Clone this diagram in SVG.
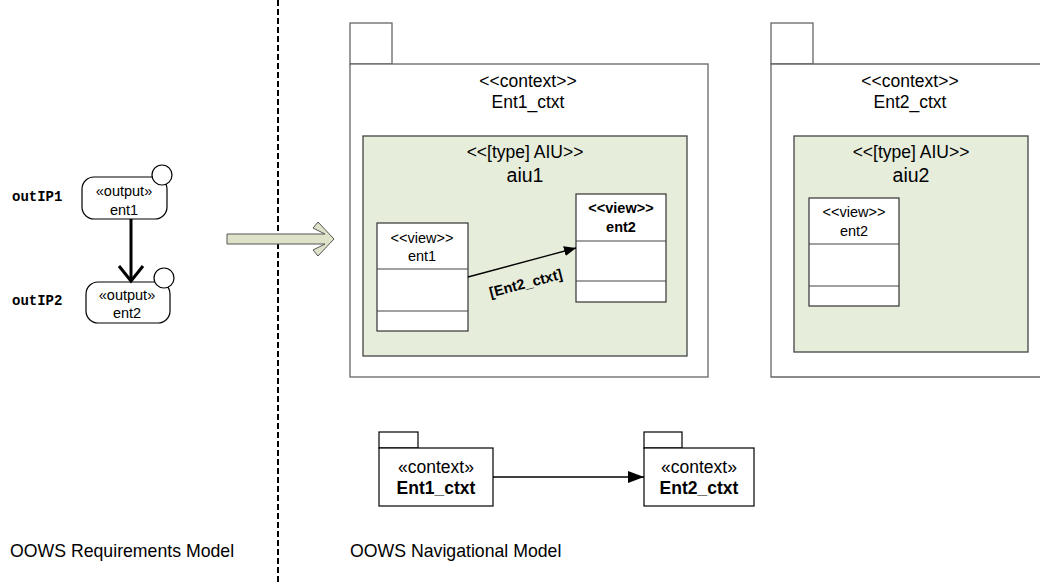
<svg xmlns="http://www.w3.org/2000/svg" width="1040" height="585" viewBox="0 0 1040 585">
<style>
text{font-family:"Liberation Sans",Arial,sans-serif;fill:#000}
.c{text-anchor:middle}
.b{font-weight:bold}
.mono{font-family:"Liberation Mono","Courier New",monospace;font-weight:bold;font-size:14px}
.pkg{fill:#fff;stroke:#666;stroke-width:1.3}
.aiu{fill:#e6eddb;stroke:#444;stroke-width:1.3}
.view{fill:#fff;stroke:#333;stroke-width:1.2}
.div{stroke:#444;stroke-width:1.2}
.node{fill:#fff;stroke:#000;stroke-width:1.2}
</style>
<defs>
<marker id="tri" viewBox="0 0 12 10" refX="12" refY="5" markerWidth="12" markerHeight="10" markerUnits="userSpaceOnUse" orient="auto">
<path d="M0,0 L12,5 L0,10 Z" fill="#000"/>
</marker>
<marker id="tri2" viewBox="0 0 16 12" refX="16" refY="6" markerWidth="16" markerHeight="12" markerUnits="userSpaceOnUse" orient="auto">
<path d="M0,0 L16,6 L0,12 Z" fill="#000"/>
</marker>
</defs>

<!-- divider -->
<line x1="278" y1="0" x2="278" y2="585" stroke="#000" stroke-width="2" stroke-dasharray="6 3"/>

<!-- left requirements model -->
<g id="outIP1">
<text class="mono" x="12" y="201">outIP1</text>
<rect class="node" x="82" y="177" width="85" height="42" rx="12"/>
<circle class="node" cx="162" cy="175" r="10"/>
<text class="c" x="124" y="196" font-size="14.5">«output»</text>
<text class="c" x="124" y="215" font-size="14.5">ent1</text>
</g>
<g id="outIP2">
<text class="mono" x="12" y="305">outIP2</text>
<rect class="node" x="86" y="282" width="84" height="41" rx="12"/>
<circle class="node" cx="164" cy="278" r="10"/>
<text class="c" x="127" y="300" font-size="14.5">«output»</text>
<text class="c" x="127" y="318" font-size="14.5">ent2</text>
</g>

<!-- transformation arrow -->
<g id="transform">
<polygon points="227,234 325,234 313,228 318,222 334,239 318,256 313,250 325,244 227,244" fill="#dde2c8" stroke="#555" stroke-width="1"/>
</g>

<!-- package 1 -->
<g id="Ent1_ctxt">
<rect class="pkg" x="350" y="23" width="42" height="41"/>
<rect class="pkg" x="350" y="64" width="358" height="313"/>
<text class="c" x="528" y="87" font-size="17.5">&lt;&lt;context&gt;&gt;</text>
<text class="c" x="528" y="108" font-size="17.5">Ent1_ctxt</text>
</g>
<g id="aiu1">
<rect class="aiu" x="363" y="136" width="324" height="220"/>
<text class="c" x="525" y="158" font-size="17.5">&lt;&lt;[type] AIU&gt;&gt;</text>
<text class="c" x="525" y="182" font-size="19.5">aiu1</text>
</g>
<g id="view_ent1">
<rect class="view" x="377" y="223" width="91" height="108"/>
<line class="div" x1="377" y1="269" x2="468" y2="269"/>
<line class="div" x1="377" y1="311" x2="468" y2="311"/>
<text class="c" x="422" y="243" font-size="14.5">&lt;&lt;view&gt;&gt;</text>
<text class="c" x="422" y="261" font-size="14.5">ent1</text>
</g>
<g id="view_ent2">
<rect class="view" x="576" y="194" width="90" height="108"/>
<line class="div" x1="576" y1="241" x2="666" y2="241"/>
<line class="div" x1="576" y1="281" x2="666" y2="281"/>
<text class="c b" x="621" y="213" font-size="14.5">&lt;&lt;view&gt;&gt;</text>
<text class="c b" x="621" y="232" font-size="14.5">ent2</text>
</g>

<!-- package 2 -->
<g id="Ent2_ctxt">
<rect class="pkg" x="771" y="23" width="42" height="41"/>
<path class="pkg" d="M1045,64 L771,64 L771,377 L1045,377"/>
<text class="c" x="910" y="87" font-size="17.5">&lt;&lt;context&gt;&gt;</text>
<text class="c" x="910" y="108" font-size="17.5">Ent2_ctxt</text>
</g>
<g id="aiu2">
<rect class="aiu" x="794" y="136" width="234" height="216"/>
<text class="c" x="911" y="158" font-size="17.5">&lt;&lt;[type] AIU&gt;&gt;</text>
<text class="c" x="911" y="182" font-size="19.5">aiu2</text>
</g>
<g id="view_ent2_b">
<rect class="view" x="809" y="198" width="90" height="108"/>
<line class="div" x1="809" y1="244" x2="899" y2="244"/>
<line class="div" x1="809" y1="286" x2="899" y2="286"/>
<text class="c" x="854" y="217" font-size="14.5">&lt;&lt;view&gt;&gt;</text>
<text class="c" x="854" y="236" font-size="14.5">ent2</text>
</g>

<!-- bottom packages -->
<g id="pkgA">
<rect class="node" x="379" y="432" width="39" height="16"/>
<rect class="node" x="379" y="448" width="114" height="58"/>
<text class="c" x="436" y="473" font-size="17.5">«context»</text>
<text class="c b" x="436" y="494" font-size="17.5">Ent1_ctxt</text>
</g>
<g id="pkgB">
<rect class="node" x="644" y="432" width="38" height="16"/>
<rect class="node" x="644" y="448" width="110" height="58"/>
<text class="c" x="699" y="473" font-size="17.5">«context»</text>
<text class="c b" x="699" y="494" font-size="17.5">Ent2_ctxt</text>
</g>

<!-- connectors -->
<g id="connectors">
<line x1="131" y1="219" x2="131" y2="280" stroke="#000" stroke-width="3"/>
<polyline points="119,266 131,281 143,266" fill="none" stroke="#000" stroke-width="3"/>
<line x1="468" y1="277" x2="576" y2="248" stroke="#000" stroke-width="1.3" marker-end="url(#tri)"/>
<text class="c b" font-size="14.5" transform="translate(527,288) rotate(-14.5)">[Ent2_ctxt]</text>
<line x1="493" y1="477" x2="644" y2="477" stroke="#000" stroke-width="1.5" marker-end="url(#tri2)"/>
</g>

<!-- labels -->
<text x="10" y="557" font-size="17.7">OOWS Requirements Model</text>
<text x="350" y="557" font-size="17.7">OOWS Navigational Model</text>
</svg>
